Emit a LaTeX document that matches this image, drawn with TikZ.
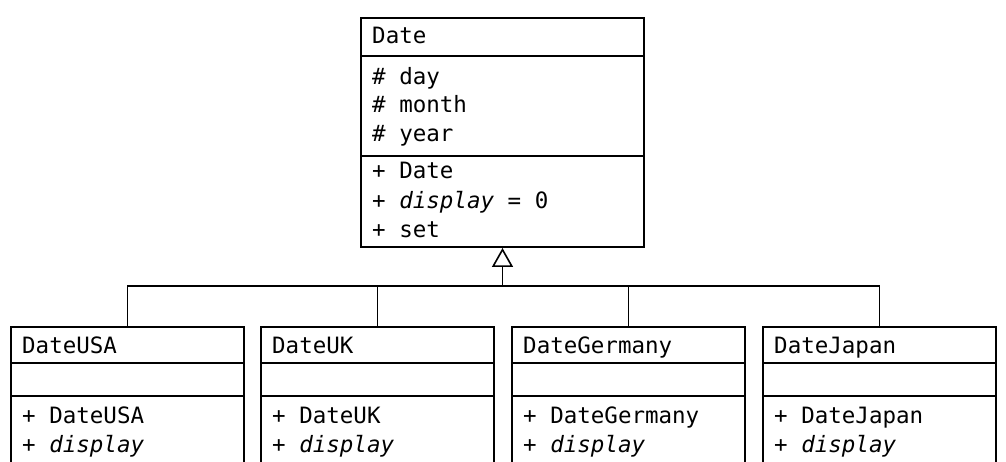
\documentclass[tikz,border=0pt]{standalone}
\usepackage{fontspec}
\setmonofont{DejaVu Sans Mono}
\usetikzlibrary{arrows.meta}
\begin{document}
\begin{tikzpicture}[x=1pt,y=1pt,
  box/.style={draw,line width=2pt,minimum width=233pt,anchor=north west,inner sep=0pt},
  txt/.style={anchor=base west,inner sep=0pt,font=\fontsize{22.5}{29}\selectfont\ttfamily},
  conn/.style={line width=1.6pt},
  inh/.style={conn,-{Triangle[open,length=19pt,width=21pt,line width=1.6pt]}}]
\useasboundingbox (0,0) rectangle (1006,-462);
\clip (0,0) rectangle (1006,-462);
% Parent class
\node[box,minimum width=283pt,minimum height=229pt] (date) at (360,-17) {};
\draw[line width=2pt] (360,-56) -- (643,-56) (360,-156) -- (643,-156);
\node[txt] (dt) at (372,-44) {Date};
\node[txt] (a1) at (372,-85) {\# day};
\node[txt] (a2) at (372,-113) {\# month};
\node[txt] (a3) at (372,-142) {\# year};
\node[txt] (m1) at (372,-179) {+ Date};
\node[txt] (m2) at (372,-209) {+ \textit{display} = 0};
\node[txt] (m3) at (372,-238) {+ set};
% Children
\foreach \nm/\x in {usa/10,uk/260,ger/511,jap/762}{
  \node[box,minimum height=160pt] (\nm) at (\x,-326) {};
  \draw[line width=2pt] (\x,-363) -- ++(233,0) (\x,-396) -- ++(233,0);
}
\foreach \nm/\x/\t in {usa/10/DateUSA,uk/260/DateUK,ger/511/DateGermany,jap/762/DateJapan}{
  \node[txt] (\nm t) at (\x+12,-353) {\t};
  \node[txt] (\nm c) at (\x+12,-423) {+ \t};
  \node[txt] (\nm d) at (\x+12,-452) {+ \textit{display}};
}
% Inheritance connectors
\coordinate (j) at (date.south |- 0,-286);
\draw[inh] (j) -- (date.south);
\foreach \nm in {usa,uk,ger,jap}{
  \draw[conn] (\nm.north) |- (j);
}
\end{tikzpicture}
\end{document}
